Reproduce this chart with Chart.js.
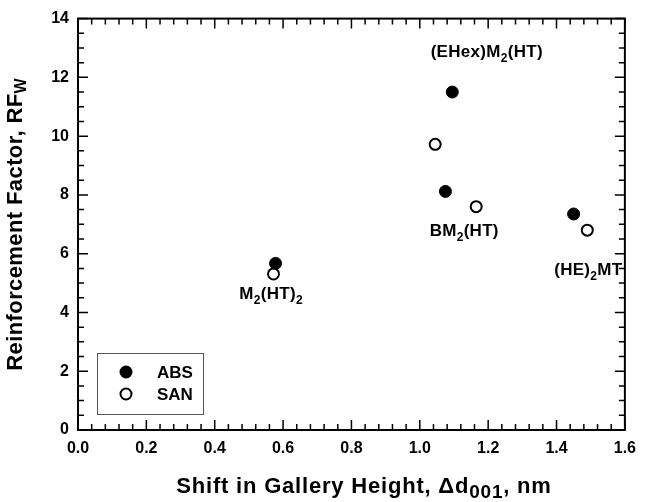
<!DOCTYPE html>
<html>
<head>
<meta charset="utf-8">
<script src="https://cdn.jsdelivr.net/npm/chart.js@4.4.1/dist/chart.umd.min.js"></script>
<style>
  html, body { margin: 0; padding: 0; background: #fff; }
  canvas { display: block; }
</style>
</head>
<body>
<canvas id="rfChart" width="645" height="502"></canvas>
<script>
// data
const seriesNames = ["ABS", "SAN"];
const absX = [0.578, 1.095, 1.075, 1.45];
const absY = [5.67, 11.5, 8.12, 7.35];
const sanX = [0.572, 1.045, 1.165, 1.49];
const sanY = [5.31, 9.72, 7.6, 6.8];
const xTickValues = [0, 0.2, 0.4, 0.6, 0.8, 1.0, 1.2, 1.4, 1.6];
const yTickValues = [0, 2, 4, 6, 8, 10, 12, 14];

// organoclay labels: [text, isSubscript] pieces, anchored in data units
const clayLabels = [
  { x: 1.196, y: 12.84, parts: [["(EHex)M"], ["2", true], ["(HT)"]] },
  { x: 1.130, y: 6.75, parts: [["BM"], ["2", true], ["(HT)"]] },
  { x: 1.493, y: 5.43, parts: [["(HE)"], ["2", true], ["MT"]] },
  { x: 0.565, y: 4.61, parts: [["M"], ["2", true], ["(HT)"], ["2", true]] },
];

const FONT = "'Liberation Sans', Arial, Helvetica, sans-serif";

function toPoints(xs, ys) {
  return xs.map((x, i) => ({ x: x, y: ys[i] }));
}

// draws text with subscript pieces, centred on (cx, cy)
function drawRich(ctx, parts, cx, cy, size, subSize, subDrop, spacing) {
  ctx.letterSpacing = (spacing || 0) + "px";
  const widths = parts.map(p => {
    ctx.font = "bold " + (p[1] ? subSize : size) + "px " + FONT;
    return ctx.measureText(p[0]).width;
  });
  const total = widths.reduce((a, b) => a + b, 0);
  let x = cx - total / 2;
  ctx.textAlign = "left";
  ctx.textBaseline = "middle";
  parts.forEach((p, i) => {
    ctx.font = "bold " + (p[1] ? subSize : size) + "px " + FONT;
    ctx.fillText(p[0], x, p[1] ? cy + subDrop : cy);
    x += widths[i];
  });
  ctx.letterSpacing = "0px";
}

const framePlugin = {
  id: "frame",
  beforeDatasetsDraw(chart) {
    const { ctx, chartArea: a, scales } = chart;
    ctx.save();
    ctx.strokeStyle = "#000";
    // inward ticks on all four sides
    ctx.lineWidth = 1.5;
    ctx.beginPath();
    for (let i = 0; i <= 40; i++) {
      const px = scales.x.getPixelForValue(i * 0.04);
      const len = i % 5 === 0 ? 10 : 6;
      ctx.moveTo(px, a.bottom); ctx.lineTo(px, a.bottom - len);
      ctx.moveTo(px, a.top); ctx.lineTo(px, a.top + len);
    }
    for (let i = 0; i <= 28; i++) {
      const py = scales.y.getPixelForValue(i * 0.5);
      const len = i % 4 === 0 ? 10 : 6;
      ctx.moveTo(a.left, py); ctx.lineTo(a.left + len, py);
      ctx.moveTo(a.right, py); ctx.lineTo(a.right - len, py);
    }
    ctx.stroke();
    ctx.lineWidth = 2;
    ctx.strokeRect(a.left, a.top, a.right - a.left, a.bottom - a.top);
    ctx.restore();
  },
  afterDraw(chart) {
    const { ctx, chartArea: a, scales } = chart;
    ctx.save();
    ctx.fillStyle = "#000";

    // point labels
    clayLabels.forEach(l => {
      drawRich(ctx, l.parts, scales.x.getPixelForValue(l.x), scales.y.getPixelForValue(l.y), 17, 12, 6, 0.3);
    });

    // legend box
    const lx = 97, ly = 353, lw = 106, lh = 61;
    ctx.fillStyle = "#fff";
    ctx.fillRect(lx, ly, lw, lh);
    ctx.strokeStyle = "#555";
    ctx.lineWidth = 1;
    ctx.strokeRect(lx + 0.5, ly + 0.5, lw, lh);
    chart.data.datasets.forEach((ds, i) => {
      const y = ly + 19 + i * 22;
      ctx.beginPath();
      ctx.arc(lx + 29, y, 5.5, 0, Math.PI * 2);
      ctx.fillStyle = ds.pointBackgroundColor;
      ctx.fill();
      ctx.lineWidth = 2;
      ctx.strokeStyle = "#000";
      ctx.stroke();
      ctx.fillStyle = "#000";
      ctx.font = "bold 17px " + FONT;
      ctx.textAlign = "left";
      ctx.textBaseline = "middle";
      ctx.fillText(ds.label, lx + 60, y + 1);
    });

    // axis titles
    drawRich(ctx, [["Shift in Gallery Height, \u0394d"], ["001", true], [", nm"]], 364, 487, 22, 19, 6, 0.8);

    ctx.translate(16, (a.top + a.bottom) / 2);
    ctx.rotate(-Math.PI / 2);
    drawRich(ctx, [["Reinforcement Factor, RF"], ["W", true]], 0, 0, 22, 16, 6, 0.4);
    ctx.restore();
  },
};

const ctx = document.getElementById("rfChart").getContext("2d");

new Chart(ctx, {
  type: "scatter",
  data: {
    datasets: [
      {
        label: seriesNames[0],
        data: toPoints(absX, absY),
        pointRadius: 6,
        pointBackgroundColor: "#000",
        pointBorderColor: "#000",
        pointBorderWidth: 1,
      },
      {
        label: seriesNames[1],
        data: toPoints(sanX, sanY),
        pointRadius: 5.5,
        pointBackgroundColor: "#fff",
        pointBorderColor: "#000",
        pointBorderWidth: 2,
      },
    ],
  },
  options: {
    responsive: false,
    animation: false,
    layout: { padding: { top: 15, right: 13, left: 0, bottom: 0 } },
    plugins: {
      legend: { display: false },
      tooltip: { enabled: false },
    },
    scales: {
      x: {
        type: "linear",
        min: 0,
        max: 1.6,
        afterFit: s => { s.height = 72; },
        afterBuildTicks: s => { s.ticks = xTickValues.map(v => ({ value: v })); },
        grid: { display: false, drawTicks: false },
        border: { display: false },
        ticks: {
          padding: 9,
          color: "#000",
          font: { family: FONT, size: 16, weight: "bold" },
          callback: v => v.toFixed(1),
          maxRotation: 0,
        },
      },
      y: {
        type: "linear",
        min: 0,
        max: 14,
        afterFit: s => { s.width = 78; },
        afterBuildTicks: s => { s.ticks = yTickValues.map(v => ({ value: v })); },
        grid: { display: false, drawTicks: false },
        border: { display: false },
        ticks: {
          padding: 9,
          color: "#000",
          font: { family: FONT, size: 16, weight: "bold" },
          callback: v => String(v),
        },
      },
    },
  },
  plugins: [framePlugin],
});
</script>
</body>
</html>
